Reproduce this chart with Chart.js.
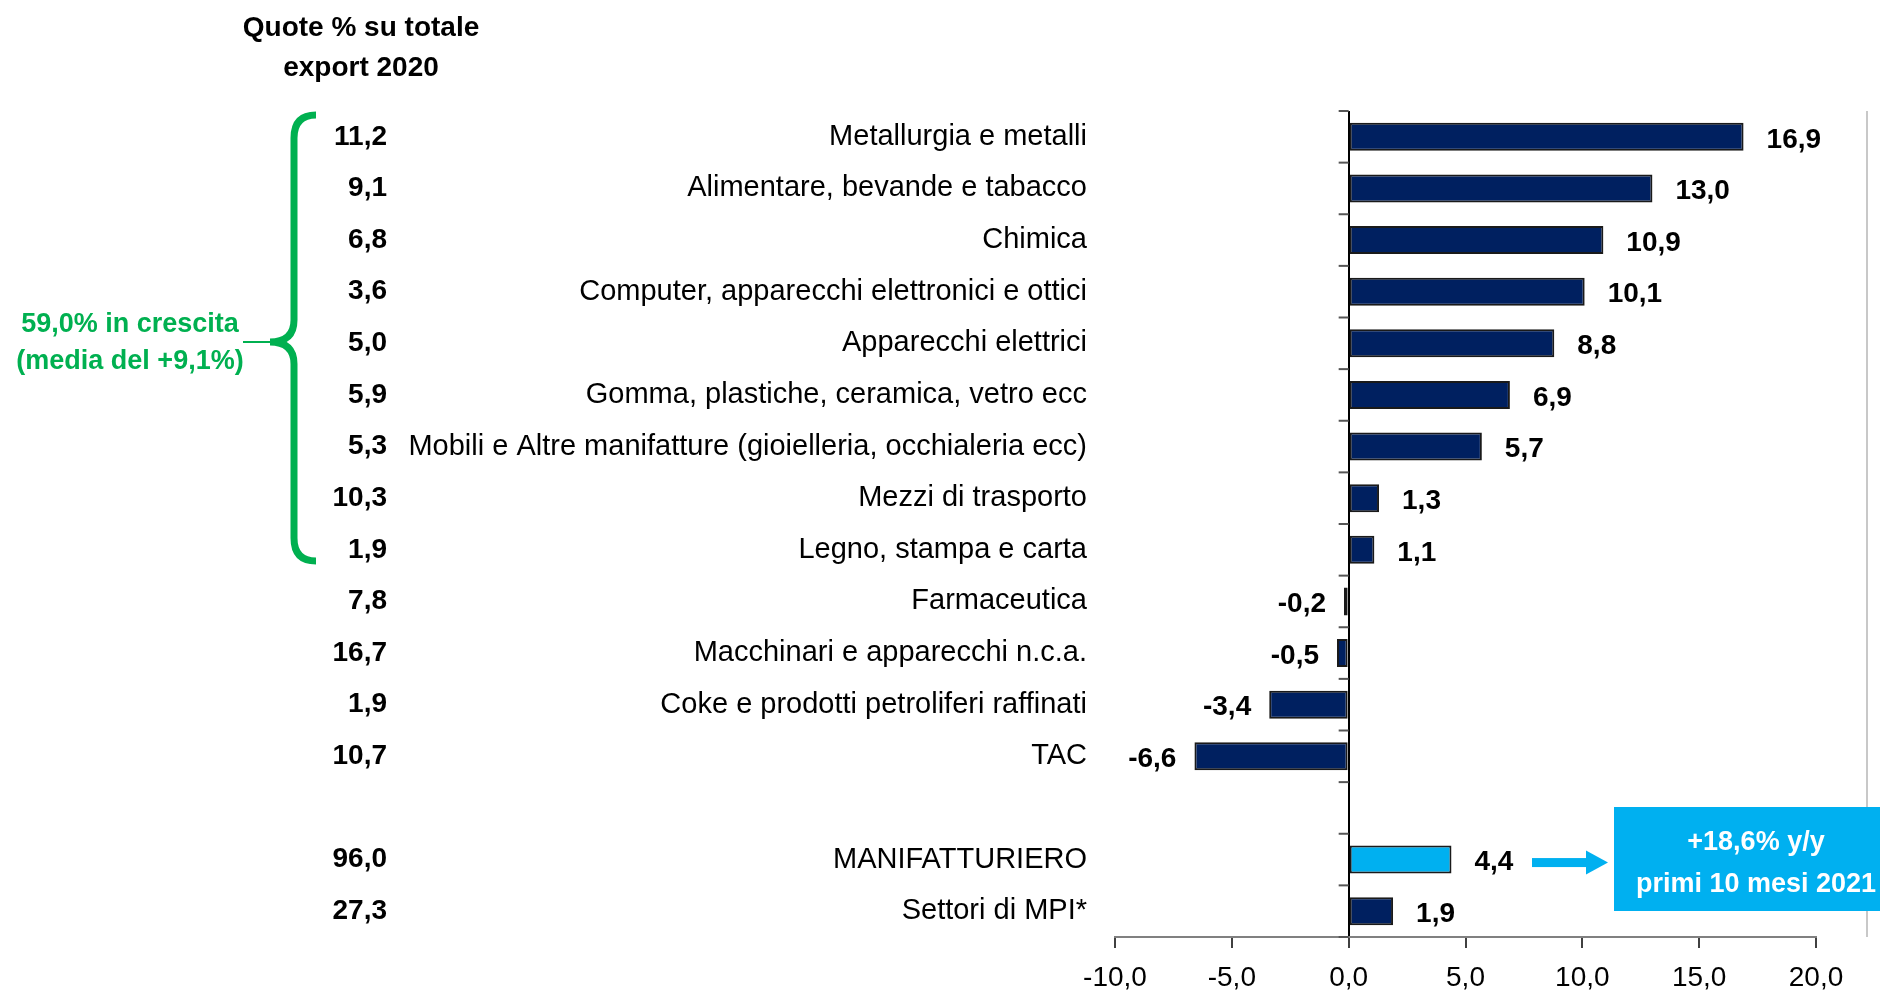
<!DOCTYPE html>
<html>
<head>
<meta charset="utf-8">
<script src="https://cdn.jsdelivr.net/npm/chart.js@4.4.1/dist/chart.umd.min.js"></script>
<style>
  body { margin: 0; background: #fff; }
</style>
</head>
<body>
<canvas id="chart" width="1880" height="998"></canvas>
<script>
// sectors top to bottom, '' is the empty row before the totals
const sectors = [
    'Metallurgia e metalli',
    'Alimentare, bevande e tabacco',
    'Chimica',
    'Computer, apparecchi elettronici e ottici',
    'Apparecchi elettrici',
    'Gomma, plastiche, ceramica, vetro ecc',
    'Mobili e Altre manifatture (gioielleria, occhialeria ecc)',
    'Mezzi di trasporto',
    'Legno, stampa e carta',
    'Farmaceutica',
    'Macchinari e apparecchi n.c.a.',
    'Coke e prodotti petroliferi raffinati',
    'TAC',
    '',
    'MANIFATTURIERO',
    'Settori di MPI*'
];
const growth = [16.9, 13.0, 10.9, 10.1, 8.8, 6.9, 5.7, 1.3, 1.1, -0.2, -0.5, -3.4, -6.6, null, 4.4, 1.9];
const shares2020 = [11.2, 9.1, 6.8, 3.6, 5.0, 5.9, 5.3, 10.3, 1.9, 7.8, 16.7, 1.9, 10.7, null, 96.0, 27.3];
const xTicks = [-10, -5, 0, 5, 10, 15, 20];
const highlight = 'MANIFATTURIERO';

const headLines = ['Quote % su totale', 'export 2020'];
const braceLines = ['59,0% in crescita', '(media del +9,1%)'];
const boxLines = ['+18,6% y/y', 'primi 10 mesi 2021'];

const FONT = "'Liberation Sans', Arial, sans-serif";
const NAVY = '#002060';
const SKY = '#00B0F0';
const GREEN = '#00B050';

const comma = v => v.toFixed(1).replace('.', ',');

const decor = {
    id: 'decor',
    afterDatasetsDraw(chart) {
        const ctx = chart.ctx;
        const bars = chart.getDatasetMeta(0).data;
        ctx.save();
        ctx.font = 'bold 28px ' + FONT;
        ctx.fillStyle = '#000';
        ctx.textBaseline = 'middle';
        bars.forEach((bar, i) => {
            const v = growth[i];
            if (v === null) return;
            if (v >= 0) {
                ctx.textAlign = 'left';
                ctx.fillText(comma(v), bar.x + 23, bar.y + 3);
            } else {
                ctx.textAlign = 'right';
                ctx.fillText(comma(v), bar.x - 18, bar.y + 3);
            }
        });
        ctx.restore();
    },
    afterDraw(chart) {
        const ctx = chart.ctx;
        const area = chart.chartArea;
        const x = chart.scales.x, y = chart.scales.y;
        const x0 = x.getPixelForValue(0);
        ctx.save();

        // little ticks on the zero line, between the categories
        ctx.strokeStyle = '#555';
        ctx.lineWidth = 2;
        for (let i = 0; i <= sectors.length; i++) {
            const py = y.getPixelForValue(i - 0.5);
            ctx.beginPath();
            ctx.moveTo(x0 - 10, py);
            ctx.lineTo(x0, py);
            ctx.stroke();
        }

        // grey frame line on the right
        ctx.strokeStyle = '#c8c8c8';
        ctx.beginPath();
        ctx.moveTo(1867, area.top);
        ctx.lineTo(1867, area.bottom);
        ctx.stroke();

        // header of the shares column
        ctx.fillStyle = '#000';
        ctx.textAlign = 'center';
        ctx.textBaseline = 'middle';
        ctx.font = 'bold 28px ' + FONT;
        ctx.fillText(headLines[0], 361, 28);
        ctx.fillText(headLines[1], 361, 68);

        // green brace and its note
        ctx.fillStyle = GREEN;
        ctx.font = 'bold 27px ' + FONT;
        ctx.fillText(braceLines[0], 130, 325);
        ctx.fillText(braceLines[1], 130, 362);

        ctx.strokeStyle = GREEN;
        ctx.lineWidth = 7;
        ctx.beginPath();
        ctx.moveTo(316, 115);
        ctx.quadraticCurveTo(294, 115, 294, 138);
        ctx.lineTo(294, 320);
        ctx.quadraticCurveTo(294, 342, 270, 342);
        ctx.quadraticCurveTo(294, 342, 294, 364);
        ctx.lineTo(294, 538);
        ctx.quadraticCurveTo(294, 561, 316, 561);
        ctx.stroke();
        ctx.lineWidth = 2;
        ctx.beginPath();
        ctx.moveTo(243, 342);
        ctx.lineTo(272, 342);
        ctx.stroke();

        // arrow from the manufacturing bar to the box
        const mb = chart.getDatasetMeta(0).data[sectors.indexOf(highlight)];
        const ay = mb.y + 3;
        ctx.fillStyle = SKY;
        ctx.fillRect(1532, ay - 4.5, 58, 9);
        ctx.beginPath();
        ctx.moveTo(1586, ay - 12);
        ctx.lineTo(1608, ay);
        ctx.lineTo(1586, ay + 12);
        ctx.closePath();
        ctx.fill();

        // callout box
        ctx.fillRect(1614, 807, 266, 104);
        ctx.fillStyle = '#fff';
        ctx.font = 'bold 27px ' + FONT;
        ctx.fillText(boxLines[0], 1756, 843);
        ctx.fillText(boxLines[1], 1756, 885);

        ctx.restore();
    }
};

new Chart(document.getElementById('chart'), {
    type: 'bar',
    data: {
        labels: sectors,
        datasets: [{
            data: growth,
            backgroundColor: sectors.map(s => s === highlight ? SKY : NAVY),
            borderColor: '#1a1a1a',
            borderWidth: 2,
            borderSkipped: false,
            barPercentage: 0.54,
            categoryPercentage: 1
        }]
    },
    options: {
        indexAxis: 'y',
        responsive: false,
        animation: false,
        layout: { padding: { top: 111, right: 64, bottom: 0, left: 0 } },
        plugins: { legend: { display: false }, tooltip: { enabled: false } },
        scales: {
            x: {
                min: xTicks[0],
                max: xTicks[xTicks.length - 1],
                afterBuildTicks: s => { s.ticks = xTicks.map(v => ({ value: v })); },
                afterFit: s => { s.height = 61; },
                border: { display: true, color: '#808080', width: 2 },
                grid: {
                    color: c => (c.tick && c.tick.value === 0) ? '#000' : 'rgba(0,0,0,0)',
                    lineWidth: 2,
                    drawTicks: true,
                    tickLength: 11,
                    tickColor: '#404040',
                    tickWidth: 2
                },
                ticks: {
                    color: '#000',
                    font: { family: FONT, size: 28 },
                    padding: 13,
                    callback: v => comma(v)
                }
            },
            y: {
                offset: true,
                afterFit: s => { s.width = 715; },
                border: { display: false },
                grid: { display: false, drawTicks: false },
                ticks: { color: '#000', font: { family: FONT, size: 29 }, padding: 28, autoSkip: false }
            },
            shares: {
                type: 'category',
                axis: 'y',
                position: 'left',
                weight: 1,
                labels: shares2020.map(v => v === null ? '' : comma(v)),
                offset: true,
                afterFit: s => { s.width = 400; },
                border: { display: false },
                grid: { display: false, drawTicks: false },
                ticks: { color: '#000', font: { family: FONT, size: 28, weight: 'bold' }, padding: 13, autoSkip: false }
            }
        }
    },
    plugins: [decor]
});
</script>
</body>
</html>
